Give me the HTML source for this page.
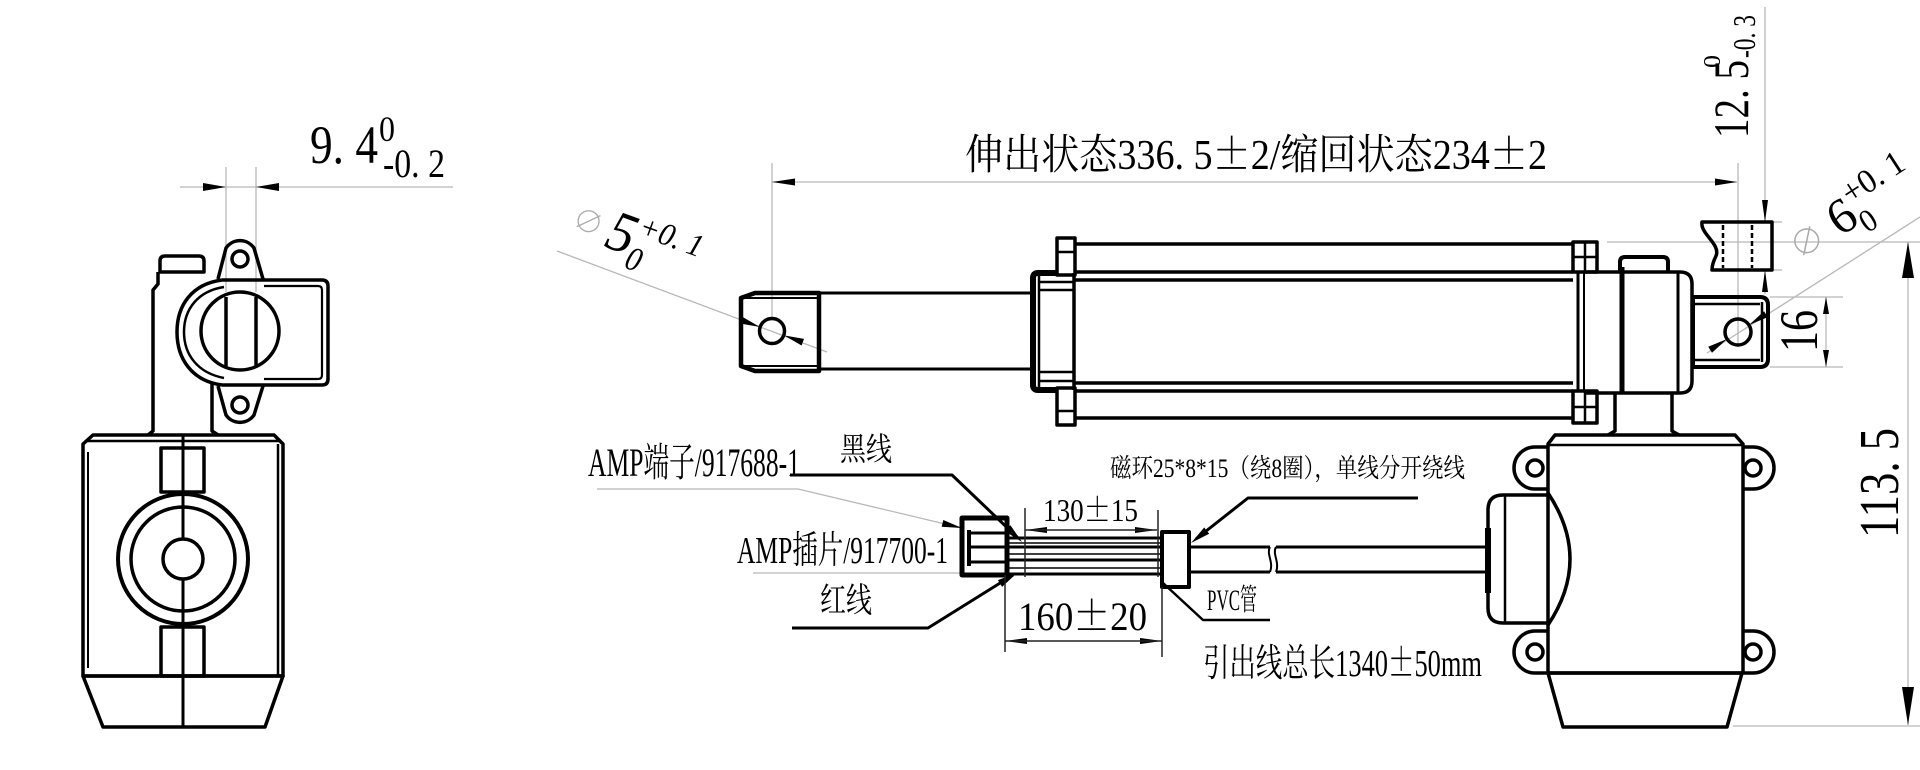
<!DOCTYPE html>
<html><head><meta charset="utf-8"><style>
html,body{margin:0;padding:0;background:#fff;}
svg{display:block;}
text{font-family:"Liberation Serif","Noto Serif CJK SC",serif;fill:#000;}
.pm{font-family:"Noto Serif CJK SC","Liberation Serif",serif;}
</style></head><body>
<svg width="1920" height="770" viewBox="0 0 1920 770" xmlns="http://www.w3.org/2000/svg">
<rect width="1920" height="770" fill="#fff"/>

<g stroke="#b8b8b8" stroke-width="1.3" fill="none">
  <line x1="180" y1="187" x2="453" y2="187"/>
  <line x1="226" y1="167" x2="226" y2="292"/>
  <line x1="256" y1="167" x2="256" y2="292"/>
  <line x1="772" y1="182" x2="1737" y2="182"/>
  <line x1="772" y1="163" x2="772" y2="318"/>
  <line x1="1738" y1="163" x2="1738" y2="347"/>
  <line x1="557" y1="251" x2="827" y2="352"/>
  <line x1="1707" y1="353" x2="1920" y2="217"/>
  <line x1="1765" y1="7" x2="1765" y2="222"/>
  <line x1="1765" y1="270" x2="1765" y2="294"/>
  <line x1="1772" y1="222" x2="1782" y2="222"/>
  <line x1="1772" y1="270" x2="1782" y2="270"/>
  <line x1="1607" y1="242" x2="1920" y2="242"/>
  <line x1="1770" y1="297" x2="1843" y2="297"/>
  <line x1="1770" y1="367" x2="1843" y2="367"/>
  <line x1="1826" y1="297" x2="1826" y2="367"/>
  <line x1="1908" y1="242" x2="1908" y2="725"/>
  <line x1="1733" y1="726" x2="1920" y2="726"/>
  <polyline points="597,489 798,489 962,528"/>
  <line x1="753" y1="573" x2="962" y2="573"/>
</g>

<g fill="#000" stroke="none">
  <polygon points="226,187 203,183 203,191"/>
  <polygon points="256,187 279,183 279,191"/>
  <polygon points="772,182 795,178.5 795,185.5"/>
  <polygon points="1737,182 1715,178.5 1715,185.5"/>
  <polygon points="1765,222 1762,200 1768,200"/>
  <polygon points="1765,270 1762,292 1768,292"/>
  <polygon points="1826,297 1823,314 1829,314"/>
  <polygon points="1826,367 1823,350 1829,350"/>
  <polygon points="1908,242 1902,278 1914,278"/>
  <polygon points="1908,725 1902,687 1914,687"/>
  <polygon points="760,327 740,323.5 742.4,316.9"/>
  <polygon points="784,335.4 804,338.9 801.6,345.5"/>
  <polygon points="1727,339 1712,352.7 1708.2,346.8"/>
  <polygon points="1749,325 1764,311.3 1767.8,317.1"/>
  <polygon points="962,528 941.7,526.8 943.3,520"/>
  <polygon points="1022,542 1004.8,531.1 1010.4,525.3"/>
  <polygon points="1017,573 1002.1,586.9 997.9,580.1"/>
  <polygon points="1191,543 1204.2,527.5 1209.2,533.7"/>
  <polygon points="1025,530 1047,527 1047,533"/>
  <polygon points="1157,530 1135,527 1135,533"/>
  <polygon points="1005,641 1027,638 1027,644"/>
  <polygon points="1162,641 1140,638 1140,644"/>
</g>

<g stroke="#000" stroke-width="3.5" fill="none" stroke-linejoin="round">
  <path d="M160,272 L160,261 Q160,256 165,256 L199,256 Q204,256 204,261 L204,272 Z"/>
  <path d="M158,272 L158,284 L153,290 L153,431 L148,435"/>
  <path d="M212,383 L212,431 L218,435"/>
  <path d="M218,279 L226,248 A17,17 0 0 1 254,248 L263,279"/>
  <circle cx="240" cy="259" r="8"/>
  <path d="M218,386 L226,415 A17,17 0 0 0 254,415 L263,386"/>
  <circle cx="240" cy="405" r="8"/>
  <path d="M222,280 C192,284 177,305 177,332 C177,359 192,381 222,385"/>
  <path d="M224,287 C198,291 184,309 184,332 C184,355 198,373 224,378" stroke-width="2.5"/>
  <path d="M222,280 L322,280 Q328,280 328,286 L328,379 Q328,385 322,385 L222,385"/>
  <path d="M264,286 L318,286 Q322,286 322,290 L322,375 Q322,379 318,379 L264,379" stroke-width="2.2"/>
  <circle cx="240" cy="331" r="39"/>
  <line x1="226" y1="297" x2="226" y2="366"/>
  <line x1="256" y1="297" x2="256" y2="366"/>
  <polygon points="93,435 274,435 283,444 283,676 83,676 83,444"/>
  <line x1="87" y1="441" x2="279" y2="441" stroke-width="2.5"/>
  <line x1="278" y1="444" x2="278" y2="676" stroke-width="2.5"/>
  <line x1="88" y1="452" x2="88" y2="668" stroke-width="2"/>
  <rect x="161" y="448" width="43" height="44"/>
  <rect x="161" y="627" width="43" height="49"/>
  <circle cx="183" cy="559" r="65" fill="#fff" stroke-width="4"/>
  <circle cx="183" cy="559" r="52"/>
  <circle cx="183" cy="559" r="20"/>
  <line x1="183" y1="435" x2="183" y2="539" stroke-width="3"/>
  <line x1="183" y1="579" x2="183" y2="727" stroke-width="3"/>
  <polygon points="83,676 103,727 265,727 283,676"/>
</g>

<g stroke="#000" stroke-width="3.5" fill="none" stroke-linejoin="round">
  <polygon points="755,293 819,293 819,371 755,371 741,366 741,298" stroke-width="4.5"/>
  <line x1="745" y1="298" x2="817" y2="298" stroke-width="2"/>
  <line x1="745" y1="366" x2="817" y2="366" stroke-width="2"/>
  <circle cx="772" cy="331" r="12.5"/>
  <line x1="819" y1="293" x2="1033" y2="293" stroke-width="3"/>
  <line x1="819" y1="369" x2="1033" y2="369" stroke-width="3"/>
  <path d="M1057,273 L1038,273 Q1033,273 1033,278 L1033,385 Q1033,390 1038,390 L1057,390" stroke-width="6"/>
  <line x1="1039" y1="276" x2="1039" y2="387" stroke-width="2.5"/>
  <line x1="1039" y1="282" x2="1074" y2="282" stroke-width="2.5"/>
  <line x1="1039" y1="290" x2="1074" y2="290" stroke-width="2.5"/>
  <line x1="1039" y1="372" x2="1074" y2="372" stroke-width="2.5"/>
  <line x1="1039" y1="381" x2="1074" y2="381" stroke-width="2.5"/>
  <line x1="1074" y1="273" x2="1074" y2="390"/>
  <rect x="1057" y="238" width="18" height="37"/>
  <line x1="1057" y1="252" x2="1075" y2="252" stroke-width="2.5"/>
  <rect x="1057" y="388" width="18" height="37"/>
  <line x1="1057" y1="411" x2="1075" y2="411" stroke-width="2.5"/>
  <line x1="1075" y1="244" x2="1573" y2="244"/>
  <line x1="1075" y1="272" x2="1573" y2="272"/>
  <line x1="1075" y1="280" x2="1573" y2="280"/>
  <line x1="1075" y1="383" x2="1573" y2="383"/>
  <line x1="1075" y1="391" x2="1573" y2="391"/>
  <line x1="1075" y1="418" x2="1573" y2="418"/>
  <rect x="1573" y="242" width="24" height="30"/>
  <line x1="1585" y1="242" x2="1585" y2="272" stroke-width="2.5"/>
  <line x1="1573" y1="257" x2="1597" y2="257" stroke-width="2.5"/>
  <rect x="1573" y="391" width="24" height="32"/>
  <line x1="1585" y1="391" x2="1585" y2="423" stroke-width="2.5"/>
  <line x1="1573" y1="407" x2="1597" y2="407" stroke-width="2.5"/>
  <line x1="1578" y1="272" x2="1578" y2="391" stroke-width="3"/>
  <line x1="1584" y1="272" x2="1584" y2="391" stroke-width="2"/>
  <path d="M1584,272 L1680,272 Q1692,272 1692,284 L1692,381 Q1692,393 1680,393 L1584,393"/>
  <line x1="1622" y1="267" x2="1622" y2="394" stroke-width="5"/>
  <line x1="1678" y1="272" x2="1678" y2="393" stroke-width="3"/>
  <path d="M1620,272 L1620,262 Q1620,257 1625,257 L1663,257 Q1668,257 1668,262 L1668,272" stroke-width="4"/>
  <path d="M1615,393 L1615,431 L1608,435"/>
  <path d="M1672,393 L1672,431 L1679,435"/>
  <path d="M1693,297 L1760,297 Q1768,297 1768,305 L1768,359 Q1768,367 1760,367 L1693,367 Z" stroke-width="4"/>
  <line x1="1693" y1="304" x2="1760" y2="304" stroke-width="2.5"/>
  <line x1="1693" y1="360" x2="1760" y2="360" stroke-width="2.5"/>
  <line x1="1762" y1="302" x2="1762" y2="362" stroke-width="2.5"/>
  <circle cx="1738" cy="332" r="13"/>
  <path d="M1772,222 L1702,222 C1700,234 1721,244 1716,256 C1713,262 1712,266 1712,270 L1772,270 Z"/>
  <line x1="1723" y1="225" x2="1723" y2="268" stroke-width="2.5" stroke-dasharray="5,3"/>
  <line x1="1752" y1="225" x2="1752" y2="268" stroke-width="2.5" stroke-dasharray="5,3"/>
</g>

<g stroke="#000" stroke-width="3.5" fill="none" stroke-linejoin="round">
  <polygon points="1555,435 1735,435 1743,444 1743,673 1548,673 1548,444"/>
  <line x1="1548" y1="445" x2="1743" y2="445" stroke-width="2.5"/>
  <polygon points="1548,673 1563,727 1727,727 1742,673"/>
  <path d="M1548,447 L1535,447 A21,21 0 0 0 1535,489 L1548,489"/>
  <circle cx="1535" cy="468" r="8"/>
  <path d="M1548,631 L1535,631 A21,21 0 0 0 1535,673 L1548,673"/>
  <circle cx="1535" cy="652" r="8"/>
  <path d="M1743,447 L1753,447 A21,21 0 0 1 1753,489 L1743,489"/>
  <circle cx="1753" cy="468" r="8"/>
  <path d="M1743,631 L1753,631 A21,21 0 0 1 1753,673 L1743,673"/>
  <circle cx="1753" cy="652" r="8"/>
  <path d="M1548,495 L1503,495 Q1488,495 1488,510 L1488,608 Q1488,623 1503,623 L1548,623"/>
  <line x1="1488" y1="528" x2="1488" y2="593" stroke-width="6"/>
  <line x1="1505" y1="495" x2="1505" y2="623" stroke-width="2.5"/>
  <path d="M1548,493 Q1592,559 1548,625"/>
  <line x1="1189" y1="547" x2="1270" y2="547" stroke-width="3"/>
  <line x1="1189" y1="572" x2="1270" y2="572" stroke-width="3"/>
  <path d="M1270,547 C1266,554 1274,562 1270,572" stroke-width="2"/>
  <path d="M1276,547 C1272,554 1280,562 1276,572" stroke-width="2"/>
  <line x1="1276" y1="547" x2="1488" y2="547" stroke-width="3"/>
  <line x1="1276" y1="572" x2="1488" y2="572" stroke-width="3"/>
  <rect x="1162" y="532" width="27" height="55" stroke-width="4"/>
  <rect x="962" y="518" width="45" height="57" stroke-width="5"/>
  <line x1="969" y1="530" x2="969" y2="566" stroke-width="4"/>
  <line x1="969" y1="533" x2="1007" y2="533" stroke-width="3"/>
  <line x1="969" y1="547" x2="1007" y2="547" stroke-width="3"/>
  <line x1="969" y1="562" x2="1007" y2="562" stroke-width="3"/>
  <line x1="1007" y1="538" x2="1162" y2="538" stroke-width="3"/>
  <line x1="1007" y1="543" x2="1162" y2="543" stroke-width="1.5"/>
  <line x1="1007" y1="547" x2="1162" y2="547" stroke-width="3"/>
  <line x1="1007" y1="554" x2="1162" y2="554" stroke-width="1.5"/>
  <line x1="1007" y1="560" x2="1162" y2="560" stroke-width="3"/>
  <line x1="1007" y1="568" x2="1162" y2="568" stroke-width="1.5"/>
  <line x1="1007" y1="574" x2="1162" y2="574" stroke-width="3"/>
  <polyline points="790,475 952,475 1018,538" stroke-width="3"/>
  <polyline points="792,628 928,628 1013,575" stroke-width="3"/>
  <polyline points="1418,498 1248,498 1196,539" stroke-width="3"/>
  <polyline points="1163,583 1203,620 1270,620" stroke-width="2.5"/>
</g>
<g stroke="#222" stroke-width="1.5" fill="none">
  <line x1="1025" y1="508" x2="1025" y2="577"/>
  <line x1="1005" y1="575" x2="1005" y2="652"/>
  <line x1="1158" y1="510" x2="1158" y2="577"/>
  <line x1="1162" y1="587" x2="1162" y2="657"/>
  <line x1="1025" y1="530" x2="1157" y2="530"/>
  <line x1="1005" y1="641" x2="1162" y2="641"/>
</g>

<text x="310" y="163" font-size="54" textLength="68" lengthAdjust="spacingAndGlyphs">9. 4</text>
<text x="379" y="141" font-size="36" textLength="16" lengthAdjust="spacingAndGlyphs">0</text>
<text x="383" y="177" font-size="40" textLength="62" lengthAdjust="spacingAndGlyphs">-0. 2</text>

<text x="965" y="169" font-size="42" textLength="582" lengthAdjust="spacingAndGlyphs">伸出状态336. 5<tspan class="pm">±</tspan>2/缩回状态234<tspan class="pm">±</tspan>2</text>

<g transform="translate(603,246) rotate(20)">
  <text x="-22" y="-7" font-size="30" text-anchor="middle" style="fill:#aaa">∅</text>
  <text x="0" y="0" font-size="58" font-style="italic" textLength="27" lengthAdjust="spacingAndGlyphs">5</text>
  <text x="26" y="13" font-size="34" font-style="italic" textLength="15" lengthAdjust="spacingAndGlyphs">0</text>
  <text x="28" y="-22" font-size="32" font-style="italic" textLength="66" lengthAdjust="spacingAndGlyphs">+0. 1</text>
</g>

<g transform="translate(1840,237) rotate(-33)">
  <text x="-30" y="-2" font-size="34" text-anchor="middle" style="fill:#aaa">∅</text>
  <text x="0" y="0" font-size="50" textLength="25" lengthAdjust="spacingAndGlyphs">6</text>
  <text x="25" y="12" font-size="32" textLength="15" lengthAdjust="spacingAndGlyphs">0</text>
  <text x="26" y="-21" font-size="34" textLength="68" lengthAdjust="spacingAndGlyphs">+0. 1</text>
</g>

<g transform="translate(1748,138) rotate(-90)">
  <text x="0" y="0" font-size="50" textLength="78" lengthAdjust="spacingAndGlyphs">12. 5</text>
  <text x="70" y="-28" font-size="24" textLength="13" lengthAdjust="spacingAndGlyphs">0</text>
  <text x="80" y="7" font-size="32" textLength="43" lengthAdjust="spacingAndGlyphs">-0. 3</text>
</g>

<g transform="translate(1817,352) rotate(-90)">
  <text x="0" y="0" font-size="54" textLength="42" lengthAdjust="spacingAndGlyphs">16</text>
</g>
<g transform="translate(1898,538) rotate(-90)">
  <text x="0" y="0" font-size="56" textLength="110" lengthAdjust="spacingAndGlyphs">113. 5</text>
</g>

<text x="588" y="476" font-size="40" textLength="212" lengthAdjust="spacingAndGlyphs">AMP端子/917688-1</text>
<text x="840" y="460" font-size="32" textLength="52" lengthAdjust="spacingAndGlyphs">黑线</text>
<text x="737" y="563" font-size="38" textLength="211" lengthAdjust="spacingAndGlyphs">AMP插片/917700-1</text>
<text x="820" y="612" font-size="34" textLength="52" lengthAdjust="spacingAndGlyphs">红线</text>
<text x="1043" y="521" font-size="32" textLength="95" lengthAdjust="spacingAndGlyphs">130<tspan class="pm">±</tspan>15</text>
<text x="1018" y="630" font-size="40" textLength="129" lengthAdjust="spacingAndGlyphs">160<tspan class="pm">±</tspan>20</text>
<text x="1110" y="477" font-size="26" textLength="355" lengthAdjust="spacingAndGlyphs">磁环25*8*15（绕8圈），单线分开绕线</text>
<text x="1207" y="610" font-size="30" textLength="50" lengthAdjust="spacingAndGlyphs">PVC管</text>
<text x="1203" y="676" font-size="38" textLength="279" lengthAdjust="spacingAndGlyphs">引出线总长1340<tspan class="pm">±</tspan>50mm</text>
</svg>
</body></html>
